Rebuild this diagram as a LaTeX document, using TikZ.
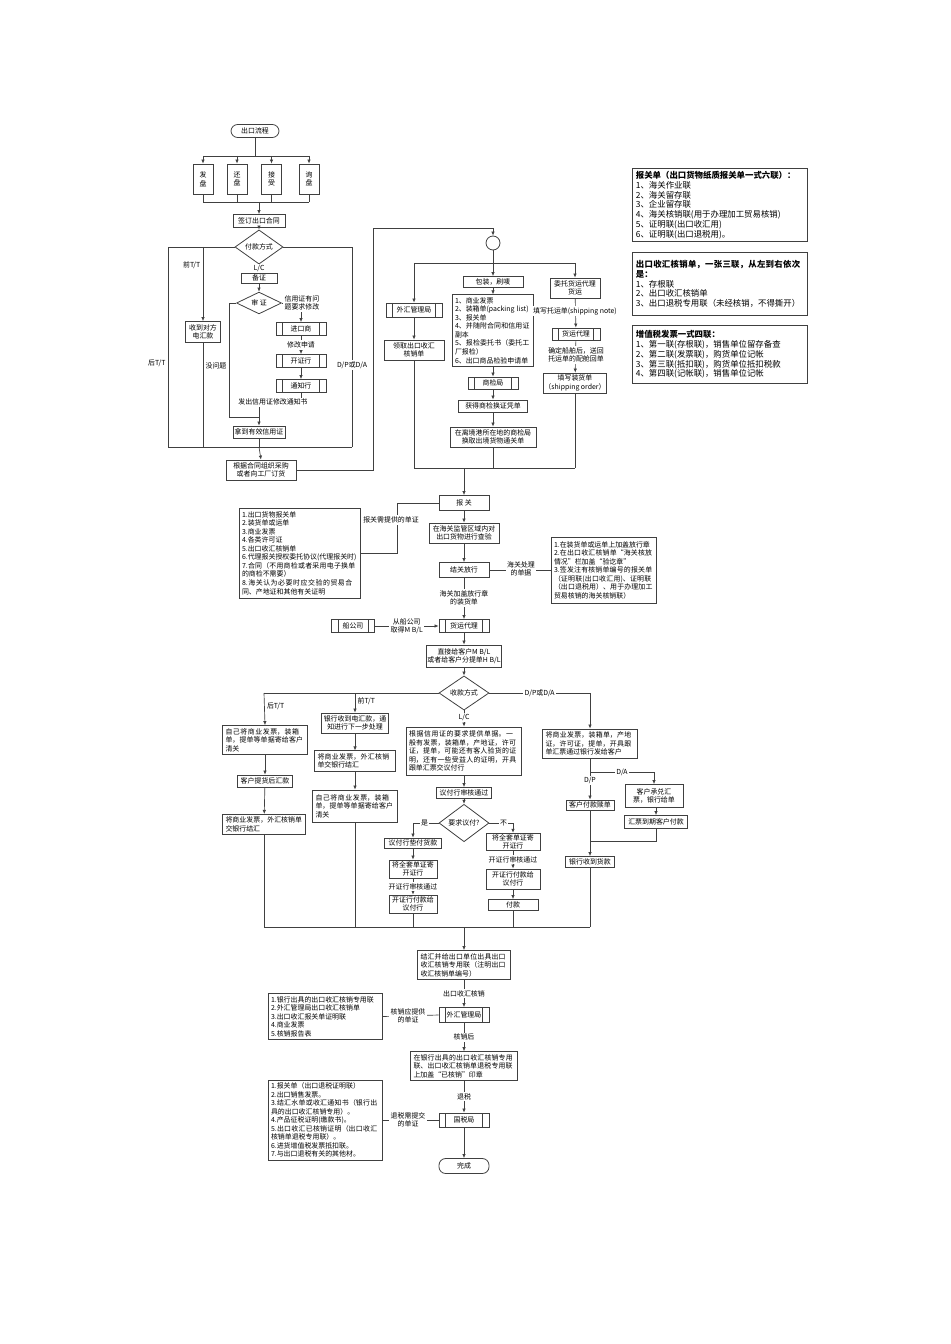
\documentclass[tikz,border=0pt]{standalone}
\usepackage{fontspec}
\setmainfont{Noto Sans CJK SC}
\XeTeXlinebreaklocale "zh"
\XeTeXlinebreakskip=0pt plus 1pt
\usetikzlibrary{shapes.geometric,arrows.meta}
\begin{document}
\fontsize{5.2pt}{6.4pt}\selectfont
\begin{tikzpicture}[x=0.75pt,y=-0.75pt,
  w/.style={minimum width=#1*0.75pt},
  h/.style={minimum height=#1*0.75pt},
  tw/.style={text width=#1*0.75pt},
  box/.style={draw,line width=0.6pt,draw=black!75,inner sep=1pt,align=center},
  lbox/.style={box,align=left,inner sep=2pt},
  info/.style={lbox,font=\fontsize{6.3pt}{7.4pt}\selectfont,anchor=north west,w=175,tw=168},
  sub/.style={box,path picture={
     \draw[black!75,line width=0.5pt] ([xshift=5pt]path picture bounding box.north west) -- ([xshift=5pt]path picture bounding box.south west);
     \draw[black!75,line width=0.5pt] ([xshift=-5pt]path picture bounding box.north east) -- ([xshift=-5pt]path picture bounding box.south east);}},
  term/.style={box,rounded corners=5pt},
  dia/.style={draw,line width=0.6pt,draw=black!75,diamond,inner sep=0pt,align=center},
  lab/.style={fill=white,inner sep=1pt,align=center},
  ln/.style={draw=black!75,line width=0.5pt},
  ar/.style={draw=black!75,line width=0.5pt,-{Latex[length=3pt,width=2.6pt]}}]
\useasboundingbox (0,0) rectangle (950,1344);
% ---------- top left
\node[term,w=48,h=13] (start) at (255,131) {出口流程};
\node[box,w=20,h=30] (fa) at (203,179) {发\\盘};
\node[box,w=20,h=30] (huan) at (237,179) {还\\盘};
\node[box,w=20,h=30] (jie) at (271.5,179) {接\\受};
\node[box,w=20,h=30] (xun) at (309,179) {询\\盘};
\draw[ln] (start.south) -- (255,156) (203,156) -- (309,156);
\foreach \n/\x in {fa/203,huan/237,jie/271.5,xun/309}{
  \draw[ar] (\x,156) -- (\n.north);
  \draw[ln] (\n.south) -- (\x,202);}
\draw[ln] (203,202) -- (309,202);
\node[box,w=52,h=13] (sign) at (259,221) {签订出口合同};
\draw[ar] (259,202) -- (sign.north);
\node[dia,w=48,h=14] (pay) at (259,247) {付款方式};
\draw[ar] (sign) -- (pay);
\draw[ln] (pay.west) -- (168,247) -- (168,447);
\node[left] at (168,363) {后T/T};
\node[box,w=35,h=21] (shou) at (203,332) {收到对方\\电汇款};
\draw[ar] (203,247) -- node[pos=0.25,left]{前T/T} (shou.north);
\draw[ln] (shou.south) -- (203,447);
\draw[ln] (pay.east) -- (352,247) -- (352,447);
\node[lab] at (352,365) {D/P或D/A};
\node[box,w=36,h=10] (bei) at (259,278) {备证};
\draw[ar] (pay.south) -- node[lab]{L/C} (bei.north);
\node[dia,w=45,h=17] (shen) at (259,303) {审 证};
\draw[ar] (bei) -- (shen);
\node[sub,w=50,h=13] (jk) at (301,329) {进口商};
\draw[ar] (shen.east) -- (301,303) -- (jk.north);
\node[lab,anchor=west] at (283,303) {信用证有问\\题要求修改};
\node[sub,w=50,h=13] (kz) at (301,361) {开证行};
\node[sub,w=50,h=13] (tz) at (301,386) {通知行};
\draw[ar] (jk) -- node[lab]{修改申请} (kz);
\draw[ar] (kz) -- (tz);
\draw[ln] (tz.south) -- (301,398);
\node (fachu) at (273,402) {发出信用证修改通知书};
\node[box,w=52,h=12] (nd) at (259,432) {拿到有效信用证};
\draw[ln] (shen.west) -- (229,303) -- (229,417) -- (259,417);
\draw[ln] (259,407) -- (259,417);
\draw[ar] (259,417) -- (nd.north);
\node[left] at (229,366) {没问题};
\draw[ln] (nd.south) -- (259,447) (168,447) -- (352,447);
\node[box,w=70,h=20] (gj) at (261,470) {根据合同组织采购\\或者向工厂订货};
\draw[ar] (259,447) -- (gj.north);
% ---------- top middle
\node[draw,line width=0.6pt,draw=black!75,circle,minimum size=14*0.75pt,inner sep=0] (circ) at (493,243) {};
\draw[ar] (gj.east) -- (373,470) -- (373,228) -- (493,228) -- (circ.north);
\draw[ln] (circ.south) -- (493,263) (414,263) -- (576,263);
\node[sub,w=56,h=14] (wh) at (414,310) {外汇管理局};
\node[box,w=60,h=11] (bz) at (493,282) {包装，刷唛};
\node[box,w=50,h=20] (wt) at (575,288) {委托货运代理\\货运};
\draw[ar] (414,263) -- (wh.north);
\draw[ar] (493,263) -- (bz.north);
\draw[ar] (575,263) -- (wt.north);
\node[lbox,w=80,h=71,tw=76] (l1) at (493,330.5) {1、商业发票\\2、装箱单(packing list)\\3、报关单\\4、并随附合同和信用证副本\\5、报检委托书（委托工厂报检）\\6、出口商品检验申请单};
\draw[ar] (bz) -- (l1);
\node[sub,w=50,h=12] (sj) at (493,383) {商检局};
\node[box,w=69,h=12] (hd) at (493,406) {获得商检换证凭单};
\node[box,w=86,h=20] (lj) at (493,437) {在离境港所在地的商检局\\换取出境货物通关单};
\draw[ar] (l1) -- (sj); \draw[ar] (sj) -- (hd); \draw[ar] (hd) -- (lj);
\draw[ln] (lj.south) -- (493,468);
\node[box,w=60,h=20] (lq) at (414,350) {领取出口收汇\\核销单};
\draw[ar] (wh) -- (lq);
\draw[ln] (lq.south) -- (414,468);
\node[sub,w=48,h=12] (hy) at (576,334) {货运代理};
\draw[ar] (wt) -- (hy);
\node[lab] at (575,311) {填写托运单(shipping note)};
\node[box,w=62,h=20] (tx) at (575,383) {填写装货单\\（shipping order）};
\draw[ar] (hy) -- (tx);
\node[lab] at (576,355) {确定船舶后，送回\\托运单的配舱回单};
\draw[ln] (tx.south) -- (575,468) (414,468) -- (575,468);
% ---------- right info boxes
\node[info,h=69] at (632,168) {\textbf{报关单（出口货物纸质报关单一式六联）：}\\1、海关作业联\\2、海关留存联\\3、企业留存联\\4、海关核销联(用于办理加工贸易核销)\\5、证明联(出口收汇用)\\6、证明联(出口退税用)。};
\node[info,h=63] at (632,252) {\textbf{出口收汇核销单，一张三联，从左到右依次是：}\\1、存根联\\2、出口收汇核销单\\3、出口退税专用联（未经核销，不得撕开）};
\node[info,h=58] at (632,325) {\textbf{增值税发票一式四联：}\\1、第一联(存根联)，销售单位留存备查\\2、第二联(发票联)，购货单位记帐\\3、第三联(抵扣联)，购货单位抵扣税款\\4、第四联(记帐联)，销售单位记帐};
% ---------- customs
\node[box,w=50,h=15] (bg) at (464,503) {报 关};
\draw[ar] (464,468) -- (bg.north);
\node[lbox,w=120,h=90,tw=116] (l2) at (300,553) {1.出口货物报关单\\2.装货单或运单\\3.商业发票\\4.各类许可证\\5.出口收汇核销单\\6.代理报关授权委托协议(代理报关时)\\7.合同（不用商检或者采用电子换单的商检不需要）\\8.海关认为必要时应交验的贸易合同、产地证和其他有关证明};
\draw[ln] (l2.east) -- (397,553) -- (397,503) -- (bg.west);
\node[lab] at (391,520) {报关需提供的单证};
\node[box,w=70,h=20] (cy) at (464,533) {在海关监管区域内对\\出口货物进行查验};
\node[box,w=50,h=15] (jg) at (464,570) {结关放行};
\draw[ar] (bg) -- (cy); \draw[ar] (cy) -- (jg);
\node[lbox,w=104,h=66,tw=100] (l3) at (604,570) {1.在装货单或运单上加盖放行章\\2.在出口收汇核销单“海关核放情况”栏加盖“验讫章”\\3.签发注有核销单编号的报关单（证明联(出口收汇用)、证明联（出口退税用）、用于办理加工贸易核销的海关核销联）};
\draw[ln] (jg.east) -- (l3.west);
\node[lab] at (521,569) {海关处理\\的单据};
\node[sub,w=50,h=13] (hy2) at (464,626) {货运代理};
\draw[ar] (jg) -- node[lab,pos=0.48]{海关加盖放行章\\的装货单} (hy2);
\node[sub,w=43,h=13] (cg) at (353,626) {船公司};
\draw[ar] (cg) -- node[lab]{从船公司\\取得M B/L} (hy2);
\node[box,w=73,h=22] (zj) at (464,656) {直接给客户M B/L\\或者给客户分提单H B/L};
\draw[ar] (hy2) -- (zj);
\node[dia,w=50,h=14] (sk) at (464,693) {收款方式};
\draw[ar] (zj) -- (sk);
% ---------- collection columns
\draw[ln] (sk.west) -- (264,693);
\node[lbox,w=83,h=29,tw=79] (a1) at (265,740) {自己将商业发票，装箱单，提单等单据寄给客户清关};
\draw[ar] (264,693) -- node[pos=0.4,right]{后T/T} (a1.north);
\node[box,w=55,h=12] (a2) at (265,781) {客户提货后汇款};
\node[lbox,w=81,h=19,tw=77] (a3) at (264,824.5) {将商业发票，外汇核销单交银行结汇};
\draw[ar] (a1) -- (a2); \draw[ar] (a2) -- (a3);
\draw[ln] (a3.south) -- (264,927);
\node[box,w=67,h=20] (b1) at (355,723) {银行收到电汇款，通\\知进行下一步处理};
\draw[ar] (355,693) -- node[pos=0.4,right]{前T/T} (b1.north);
\node[lbox,w=79,h=18,tw=75] (b2) at (355,761) {将商业发票，外汇核销单交银行结汇};
\node[lbox,w=83,h=32,tw=79] (b3) at (355,806) {自己将商业发票，装箱单，提单等单据寄给客户清关};
\draw[ar] (b1) -- (b2); \draw[ar] (b2) -- (b3);
\draw[ln] (b3.south) -- (355,927);
\node[lbox,w=114,h=48,tw=110] (c1) at (464,751) {根据信用证的要求提供单据。一般有发票，装箱单，产地证，许可证，提单，可能还有客人验货的证明，还有一些受益人的证明，开具跟单汇票交议付行};
\draw[ar] (sk.south) -- node[lab,pos=0.45]{L/C} (c1.north);
\node[box,w=55,h=11] (c2) at (464,793) {议付行审核通过};
\node[dia,w=50,h=17] (c3) at (464,823) {要求议付?};
\draw[ar] (c1) -- (c2); \draw[ar] (c2) -- (c3);
\node[box,w=57,h=10] (d1) at (413,843) {议付行垫付货款};
\draw[ar] (c3.west) -- node[lab,pos=0.55]{是} (413,823) -- (d1.north);
\node[box,w=48,h=18] (d2) at (413,869) {将全套单证寄\\开证行};
\node[box,w=48,h=18] (d3) at (413,904) {开证行付款给\\议付行};
\draw[ar] (d1) -- (d2); \draw[ar] (d2) -- node[lab]{开证行审核通过} (d3);
\draw[ln] (d3.south) -- (413,927);
\node[box,w=54,h=17] (e1) at (513,842) {将全套单证寄\\开证行};
\draw[ar] (c3.east) -- node[lab,pos=0.6]{不} (513,823) -- (e1.north);
\node[box,w=54,h=20] (e2) at (513,879) {开证行付款给\\议付行};
\node[box,w=50,h=11] (e3) at (513,905) {付款};
\draw[ar] (e1) -- node[lab]{开证行审核通过} (e2); \draw[ar] (e2) -- (e3);
\draw[ln] (e3.south) -- (513,927);
\node[lbox,w=93,h=29,tw=89] (f1) at (590,743.5) {将商业发票，装箱单，产地证，许可证，提单，开具跟单汇票通过银行发给客户};
\draw[ar] (sk.east) -- node[lab,pos=0.5]{D/P或D/A} (590,693) -- (f1.north);
\draw[ln] (f1.south) -- (590,772);
\node[box,w=58,h=23] (g1) at (654,796) {客户承兑汇\\票，银行给单};
\draw[ar] (590,772) -- node[lab]{D/A} (654,772) -- (g1.north);
\node[box,w=48,h=10] (f2) at (590,805) {客户付款赎单};
\draw[ar] (590,772) -- node[lab,pos=0.3]{D/P} (f2.north);
\node[box,w=63,h=13] (g2) at (656,822) {汇票到期客户付款};
\draw[ar] (g1.south -| g2) -- (g2.north);
\draw[ln] (g2.south) -- (656,841) -- (590,841);
\node[box,w=49,h=11] (f3) at (590,862) {银行收到货款};
\draw[ar] (f2) -- (f3);
\draw[ln] (f3.south) -- (590,927);
\draw[ln] (264,927) -- (590,927);
% ---------- settlement
\node[lbox,w=91,h=29,tw=87] (h1) at (464,965) {结汇并给出口单位出具出口收汇核销专用联（注明出口收汇核销单编号）};
\draw[ar] (464,927) -- (h1.north);
\node[sub,w=50,h=15] (wh2) at (464,1015) {外汇管理局};
\draw[ar] (h1) -- node[lab]{出口收汇核销} (wh2);
\node[lbox,w=113,h=43,tw=109] (l4) at (325.5,1016.5) {1.银行出具的出口收汇核销专用联\\2.外汇管理局出口收汇核销单\\3.出口收汇报关单证明联\\4.商业发票\\5.核销报告表};
\draw[ln] (l4.east) -- node[lab,pos=0.45]{核销应提供\\的单证} (wh2.west);
\node[lbox,w=105,h=28,tw=101] (h2) at (464,1066) {在银行出具的出口收汇核销专用联、出口收汇核销单退税专用联上加盖“已核销”印章};
\draw[ar] (wh2) -- node[lab]{核销后} (h2);
\node[sub,w=50,h=14] (gs) at (464,1120) {国税局};
\draw[ar] (h2) -- node[lab]{退税} (gs);
\node[lbox,w=113,h=80,tw=109] (l5) at (325.5,1120) {1.报关单（出口退税证明联）\\2.出口销售发票。\\3.结汇水单或收汇通知书（银行出具的出口收汇核销专用）。\\4.产品征税证明(缴款书)。\\5.出口收汇已核销证明（出口收汇核销单退税专用联）。\\6.进货增值税发票抵扣联。\\7.与出口退税有关的其他材。};
\draw[ln] (l5.east) -- node[lab,pos=0.45]{退税需提交\\的单证} (gs.west);
\node[term,w=50,h=15] (done) at (464,1166) {完成};
\draw[ar] (gs) -- (done);
\end{tikzpicture}
\end{document}
